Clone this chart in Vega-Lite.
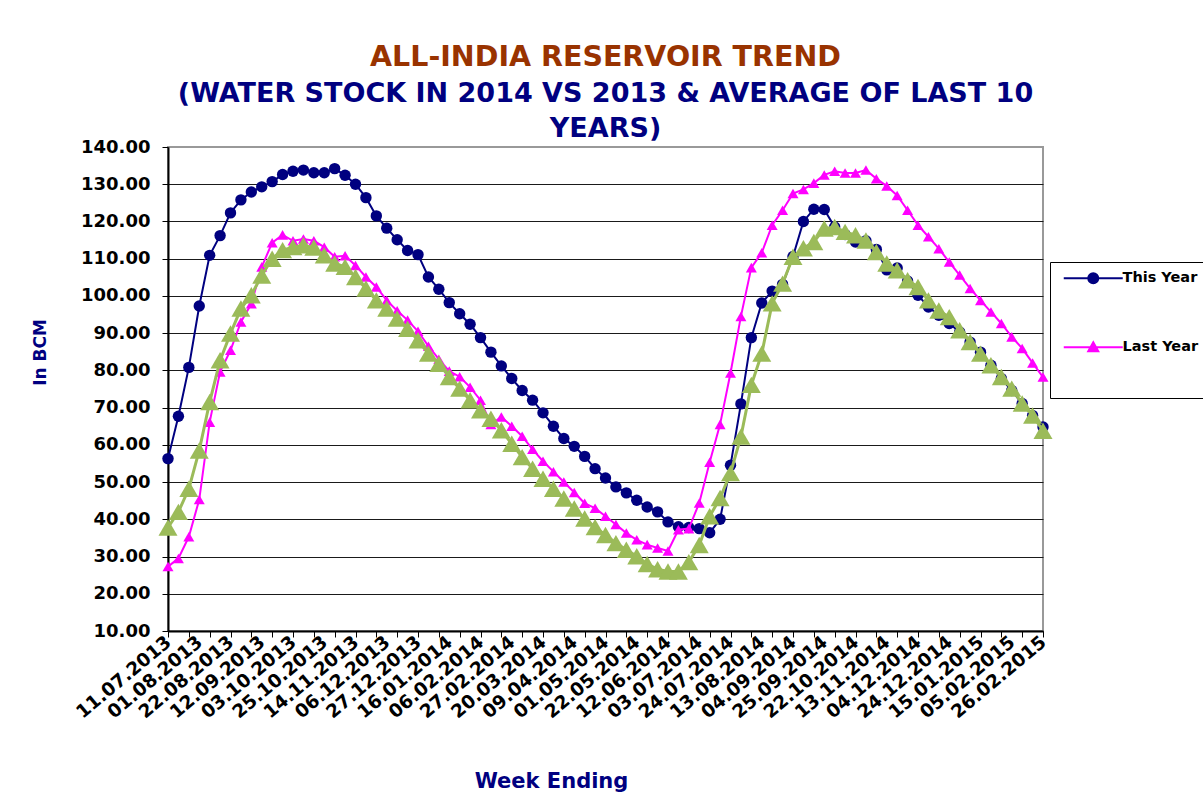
{
  "$schema": "https://vega.github.io/schema/vega-lite/v6.json",
  "width": 875,
  "height": 484,
  "autosize": {"type": "none"},
  "padding": {"left": 168, "top": 147, "right": 160, "bottom": 172},
  "background": "white",
  "title": {
    "text": "ALL-INDIA RESERVOIR TREND",
    "subtitle": ["(WATER STOCK IN 2014 VS 2013 & AVERAGE OF LAST 10", "YEARS)"],
    "anchor": "middle",
    "font": "DejaVu Sans",
    "fontSize": 28.5,
    "fontWeight": "bold",
    "color": "#993300",
    "subtitleFont": "DejaVu Sans",
    "subtitleFontSize": 27,
    "subtitleFontWeight": "bold",
    "subtitleColor": "#000080",
    "subtitleLineHeight": 35,
    "subtitlePadding": 10,
    "offset": -4
  },
  "data": {
    "values": [
      {"w": "11.07.2013", "ty": 56.3, "ly": 27.3, "avg": 37.8},
      {"w": "18.07.2013", "ty": 67.7, "ly": 29.5, "avg": 42.0},
      {"w": "25.07.2013", "ty": 80.8, "ly": 35.3, "avg": 48.2},
      {"w": "01.08.2013", "ty": 97.3, "ly": 45.3, "avg": 58.5},
      {"w": "08.08.2013", "ty": 110.9, "ly": 66.1, "avg": 71.5},
      {"w": "15.08.2013", "ty": 116.2, "ly": 79.6, "avg": 82.7},
      {"w": "22.08.2013", "ty": 122.3, "ly": 85.4, "avg": 89.9},
      {"w": "29.08.2013", "ty": 125.8, "ly": 93.0, "avg": 96.6},
      {"w": "05.09.2013", "ty": 127.9, "ly": 97.9, "avg": 100.2},
      {"w": "12.09.2013", "ty": 129.3, "ly": 107.8, "avg": 105.5},
      {"w": "19.09.2013", "ty": 130.7, "ly": 114.3, "avg": 110.0},
      {"w": "26.09.2013", "ty": 132.6, "ly": 116.4, "avg": 112.3},
      {"w": "03.10.2013", "ty": 133.5, "ly": 114.8, "avg": 113.1},
      {"w": "10.10.2013", "ty": 133.8, "ly": 115.3, "avg": 113.6},
      {"w": "17.10.2013", "ty": 133.1, "ly": 114.8, "avg": 113.0},
      {"w": "25.10.2013", "ty": 133.1, "ly": 113.1, "avg": 110.9},
      {"w": "31.10.2013", "ty": 134.2, "ly": 110.5, "avg": 108.7},
      {"w": "07.11.2013", "ty": 132.4, "ly": 110.8, "avg": 107.8},
      {"w": "14.11.2013", "ty": 130.0, "ly": 108.2, "avg": 105.1},
      {"w": "21.11.2013", "ty": 126.4, "ly": 105.1, "avg": 102.0},
      {"w": "28.11.2013", "ty": 121.5, "ly": 102.4, "avg": 98.8},
      {"w": "06.12.2013", "ty": 118.2, "ly": 98.8, "avg": 96.6},
      {"w": "12.12.2013", "ty": 115.1, "ly": 96.0, "avg": 93.9},
      {"w": "19.12.2013", "ty": 112.2, "ly": 93.5, "avg": 91.2},
      {"w": "27.12.2013", "ty": 111.1, "ly": 90.5, "avg": 88.1},
      {"w": "02.01.2014", "ty": 105.1, "ly": 86.5, "avg": 84.5},
      {"w": "09.01.2014", "ty": 101.8, "ly": 83.0, "avg": 81.8},
      {"w": "16.01.2014", "ty": 98.2, "ly": 79.8, "avg": 78.2},
      {"w": "23.01.2014", "ty": 95.2, "ly": 78.3, "avg": 75.1},
      {"w": "30.01.2014", "ty": 92.4, "ly": 75.5, "avg": 72.0},
      {"w": "06.02.2014", "ty": 88.8, "ly": 72.0, "avg": 69.3},
      {"w": "13.02.2014", "ty": 84.9, "ly": 65.5, "avg": 67.0},
      {"w": "20.02.2014", "ty": 81.2, "ly": 67.5, "avg": 63.9},
      {"w": "27.02.2014", "ty": 77.8, "ly": 65.0, "avg": 60.3},
      {"w": "06.03.2014", "ty": 74.6, "ly": 62.3, "avg": 56.7},
      {"w": "13.03.2014", "ty": 72.0, "ly": 58.8, "avg": 53.6},
      {"w": "20.03.2014", "ty": 68.6, "ly": 55.6, "avg": 50.9},
      {"w": "27.03.2014", "ty": 65.0, "ly": 52.8, "avg": 48.2},
      {"w": "03.04.2014", "ty": 61.7, "ly": 50.0, "avg": 45.6},
      {"w": "09.04.2014", "ty": 59.6, "ly": 47.2, "avg": 42.9},
      {"w": "17.04.2014", "ty": 56.9, "ly": 44.3, "avg": 40.2},
      {"w": "24.04.2014", "ty": 53.6, "ly": 43.0, "avg": 37.9},
      {"w": "01.05.2014", "ty": 51.1, "ly": 40.8, "avg": 35.8},
      {"w": "08.05.2014", "ty": 48.7, "ly": 38.6, "avg": 33.6},
      {"w": "15.05.2014", "ty": 47.1, "ly": 36.3, "avg": 31.8},
      {"w": "22.05.2014", "ty": 45.1, "ly": 34.5, "avg": 30.1},
      {"w": "29.05.2014", "ty": 43.3, "ly": 33.2, "avg": 28.0},
      {"w": "05.06.2014", "ty": 42.0, "ly": 32.3, "avg": 26.6},
      {"w": "12.06.2014", "ty": 39.3, "ly": 31.5, "avg": 26.0},
      {"w": "19.06.2014", "ty": 38.0, "ly": 37.2, "avg": 26.0},
      {"w": "26.06.2014", "ty": 37.8, "ly": 37.5, "avg": 28.5},
      {"w": "03.07.2014", "ty": 37.5, "ly": 44.4, "avg": 33.1},
      {"w": "10.07.2014", "ty": 36.4, "ly": 55.3, "avg": 40.8},
      {"w": "17.07.2014", "ty": 40.0, "ly": 65.5, "avg": 45.7},
      {"w": "24.07.2014", "ty": 54.5, "ly": 79.3, "avg": 52.4},
      {"w": "31.07.2014", "ty": 71.0, "ly": 94.5, "avg": 62.2},
      {"w": "07.08.2014", "ty": 88.8, "ly": 107.6, "avg": 76.1},
      {"w": "13.08.2014", "ty": 98.1, "ly": 111.6, "avg": 84.5},
      {"w": "21.08.2014", "ty": 101.3, "ly": 119.0, "avg": 98.0},
      {"w": "28.08.2014", "ty": 103.1, "ly": 123.0, "avg": 103.3},
      {"w": "04.09.2014", "ty": 110.6, "ly": 127.5, "avg": 110.5},
      {"w": "11.09.2014", "ty": 120.0, "ly": 128.6, "avg": 112.8},
      {"w": "18.09.2014", "ty": 123.3, "ly": 130.3, "avg": 114.5},
      {"w": "25.09.2014", "ty": 123.2, "ly": 132.5, "avg": 118.1},
      {"w": "09.10.2014", "ty": 118.5, "ly": 133.5, "avg": 118.5},
      {"w": "16.10.2014", "ty": 116.5, "ly": 133.0, "avg": 117.2},
      {"w": "22.10.2014", "ty": 114.5, "ly": 133.0, "avg": 116.3},
      {"w": "30.10.2014", "ty": 114.8, "ly": 133.8, "avg": 114.9},
      {"w": "06.11.2014", "ty": 112.5, "ly": 131.5, "avg": 111.8},
      {"w": "13.11.2014", "ty": 107.0, "ly": 129.5, "avg": 108.7},
      {"w": "20.11.2014", "ty": 107.5, "ly": 127.0, "avg": 106.9},
      {"w": "27.11.2014", "ty": 104.0, "ly": 123.0, "avg": 104.2},
      {"w": "04.12.2014", "ty": 100.2, "ly": 119.0, "avg": 102.4},
      {"w": "11.12.2014", "ty": 97.0, "ly": 115.9, "avg": 98.8},
      {"w": "18.12.2014", "ty": 94.8, "ly": 112.7, "avg": 96.1},
      {"w": "24.12.2014", "ty": 92.6, "ly": 109.1, "avg": 94.3},
      {"w": "01.01.2015", "ty": 90.3, "ly": 105.6, "avg": 90.8},
      {"w": "08.01.2015", "ty": 87.6, "ly": 102.0, "avg": 87.6},
      {"w": "15.01.2015", "ty": 84.9, "ly": 98.8, "avg": 84.5},
      {"w": "22.01.2015", "ty": 81.4, "ly": 95.7, "avg": 81.4},
      {"w": "29.01.2015", "ty": 77.8, "ly": 92.6, "avg": 78.2},
      {"w": "05.02.2015", "ty": 74.6, "ly": 89.0, "avg": 75.1},
      {"w": "12.02.2015", "ty": 71.1, "ly": 85.9, "avg": 71.1},
      {"w": "19.02.2015", "ty": 67.9, "ly": 82.0, "avg": 67.9},
      {"w": "26.02.2015", "ty": 64.8, "ly": 78.2, "avg": 63.8}
    ]
  },
  "resolve": {"axis": {"x": "independent"}},
  "layer": [
    {
      "mark": {"type": "line", "color": "#000080", "strokeWidth": 2},
      "encoding": {
        "x": {
          "field": "w", "type": "ordinal", "sort": null,
          "scale": {"type": "point", "padding": 0},
          "axis": {
            "orient": "bottom",
            "values": ["11.07.2013","01.08.2013","22.08.2013","12.09.2013","03.10.2013","25.10.2013","14.11.2013","06.12.2013","27.12.2013","16.01.2014","06.02.2014","27.02.2014","20.03.2014","09.04.2014","01.05.2014","22.05.2014","12.06.2014","03.07.2014","24.07.2014","13.08.2014","04.09.2014","25.09.2014","22.10.2014","13.11.2014","04.12.2014","24.12.2014","15.01.2015","05.02.2015","26.02.2015"],
            "title": "Week Ending",
            "ticks": false,
            "domain": true,
            "domainColor": "#000000",
            "domainWidth": 2,
            "grid": false,
            "labelAngle": -40,
            "labelAlign": "right",
            "labelBaseline": "middle",
            "labelPadding": 8,
            "labelOverlap": false,
            "labelBound": false,
            "labelFlush": false,
            "labelFont": "DejaVu Sans",
            "labelFontWeight": "bold",
            "labelFontSize": 18.5,
            "labelColor": "#000000",
            "titleFont": "DejaVu Sans",
            "titleFontWeight": "bold",
            "titleFontSize": 21,
            "titleColor": "#000080",
            "titleX": 383,
            "titleY": 150,
            "titleBaseline": "middle",
            "titleAlign": "center"
          }
        },
        "y": {
          "field": "ty", "type": "quantitative",
          "scale": {"domain": [10, 140], "nice": false, "zero": false},
          "axis": {
            "values": [10,20,30,40,50,60,70,80,90,100,110,120,130,140],
            "tickCount": 30,
            "format": ".2f",
            "title": "In BCM",
            "grid": true,
            "gridColor": {"condition": {"test": "datum.value === 140", "value": "#999999"}, "value": "#1a1a1a"},
            "gridWidth": 1,
            "labelOverlap": false,
            "labelBound": false,
            "labelFlush": false,
            "domainColor": "#000000",
            "domainWidth": 2,
            "tickColor": "#000000",
            "tickSize": 6,
            "labelPadding": 12,
            "labelFont": "DejaVu Sans",
            "labelFontWeight": "bold",
            "labelFontSize": 18,
            "labelColor": "#000000",
            "titleFont": "DejaVu Sans",
            "titleFontWeight": "bold",
            "titleFontSize": 17,
            "titleColor": "#000080",
            "titlePadding": 31,
            "titleY": 205,
            "titleAlign": "center"
          }
        }
      }
    },
    {
      "mark": {"type": "point", "filled": true, "shape": "circle", "color": "#000080", "size": 130, "opacity": 1},
      "encoding": {
        "x": {"field": "w", "type": "ordinal", "sort": null,
          "axis": {"orient": "bottom", "values": ["11.07.2013","25.07.2013","08.08.2013","22.08.2013","05.09.2013","19.09.2013","03.10.2013","17.10.2013","31.10.2013","14.11.2013","28.11.2013","12.12.2013","27.12.2013","09.01.2014","23.01.2014","06.02.2014","20.02.2014","06.03.2014","20.03.2014","03.04.2014","17.04.2014","01.05.2014","15.05.2014","29.05.2014","12.06.2014","26.06.2014","10.07.2014","24.07.2014","07.08.2014","21.08.2014","04.09.2014","18.09.2014","09.10.2014","22.10.2014","06.11.2014","20.11.2014","04.12.2014","18.12.2014","01.01.2015","15.01.2015","29.01.2015","12.02.2015","26.02.2015"],
            "labels": false, "title": null, "domain": false, "grid": false, "ticks": true, "tickColor": "#000000", "tickSize": 6}},
        "y": {"field": "ty", "type": "quantitative"}
      }
    },
    {
      "mark": {"type": "line", "color": "#FF00FF", "strokeWidth": 2},
      "encoding": {
        "x": {"field": "w", "type": "ordinal", "sort": null, "axis": null},
        "y": {"field": "ly", "type": "quantitative"}
      }
    },
    {
      "mark": {"type": "point", "filled": true, "shape": "triangle-up", "color": "#FF00FF", "size": 121, "opacity": 1},
      "encoding": {
        "x": {"field": "w", "type": "ordinal", "sort": null, "axis": null},
        "y": {"field": "ly", "type": "quantitative"}
      }
    },
    {
      "mark": {"type": "line", "color": "#9BBB59", "strokeWidth": 3},
      "encoding": {
        "x": {"field": "w", "type": "ordinal", "sort": null, "axis": null},
        "y": {"field": "avg", "type": "quantitative"}
      }
    },
    {
      "mark": {"type": "point", "filled": true, "color": "#9BBB59", "shape": "triangle-up", "size": 360, "opacity": 1},
      "encoding": {
        "x": {"field": "w", "type": "ordinal", "sort": null, "axis": null},
        "y": {"field": "avg", "type": "quantitative"}
      }
    },
    {
      "mark": {"type": "point", "opacity": 0, "size": 100, "strokeWidth": 2},
      "encoding": {
        "x": {"field": "w", "type": "ordinal", "sort": null, "axis": null},
        "y": {"field": "ty", "type": "quantitative"},
        "fill": {
          "datum": "This Year",
          "scale": {"domain": ["This Year", "Last Year"], "range": ["#000080", "#FF00FF"]},
          "legend": {
            "title": " ",
            "titleOrient": "bottom",
            "titleFontSize": 16,
            "titlePadding": 18,
            "orient": "none",
            "legendX": 882,
            "legendY": 115,
            "padding": 9,
            "strokeColor": "#000000",
            "fillColor": "#ffffff",
            "rowPadding": 50,
            "labelOffset": 49,
            "labelFont": "DejaVu Sans",
            "labelFontWeight": "bold",
            "labelFontSize": 14.5,
            "labelColor": "#000000",
            "symbolSize": 100,
            "symbolOpacity": 1,
            "symbolStrokeWidth": 2
          }
        },
        "stroke": {
          "datum": "This Year",
          "scale": {"domain": ["This Year", "Last Year"], "range": ["#000080", "#FF00FF"]}
        },
        "shape": {
          "datum": "This Year",
          "scale": {"domain": ["This Year", "Last Year"], "range": ["M-0.5,0H11.3M6.4,0A1,1,0,1,1,4.4,0A1,1,0,1,1,6.4,0Z", "M-0.5,0H11.3M5.4,-1L6.4,0.8H4.4Z"]}
        }
      }
    },
    {
      "mark": {"type": "point", "opacity": 0, "size": 100, "strokeWidth": 2},
      "encoding": {
        "x": {"field": "w", "type": "ordinal", "sort": null, "axis": null},
        "y": {"field": "ly", "type": "quantitative"},
        "fill": {"datum": "Last Year"},
        "stroke": {"datum": "Last Year"},
        "shape": {"datum": "Last Year"}
      }
    }
  ],
  "config": {
    "view": {"stroke": "#999999", "strokeWidth": 2},
    "axis": {"labelFont": "DejaVu Sans"}
  }
}
